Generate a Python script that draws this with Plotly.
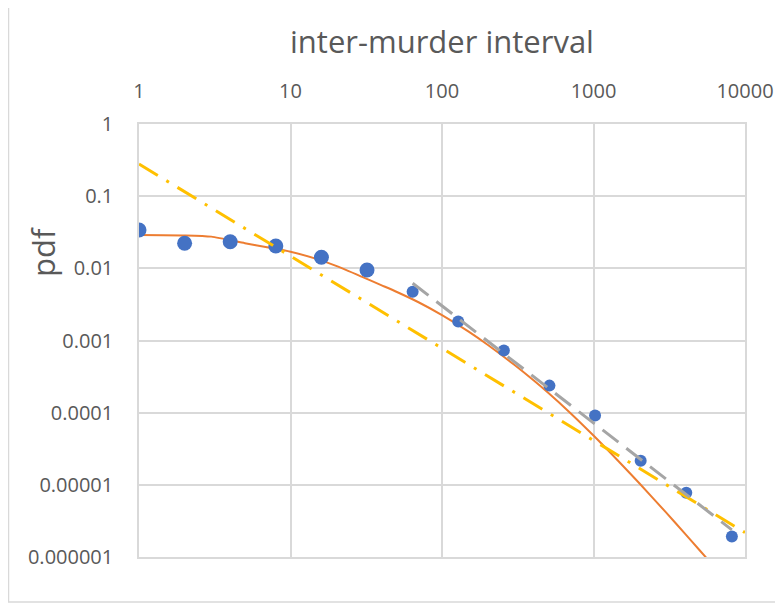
import plotly.graph_objects as go

# ---- data ----
interval = [1, 2, 4, 8, 16, 32, 64, 128, 256, 512, 1024, 2048, 4096, 8192]
pdf_obs = [0.0340, 0.0223, 0.0234, 0.0204, 0.01425, 0.0095, 0.00474, 0.00183,
           0.000725, 0.000237, 0.0000912, 0.0000215, 0.00000775, 0.00000192]

fit_x = [1, 2, 3, 5, 7, 10, 15, 20, 30, 40, 50, 70, 100, 150, 200, 300, 400, 500, 700,
         1000, 1500, 2000, 3000, 4000, 5000, 8000]
fit_y = [0.0290, 0.0286, 0.0275, 0.0223, 0.0196, 0.0170, 0.0134, 0.0108, 0.00755, 0.00582,
         0.00474, 0.00339, 0.00225, 0.00133, 0.000875, 0.000461, 0.000283, 0.000190, 0.000100,
         0.0000482, 0.0000201, 0.0000106, 0.00000418, 0.00000213, 0.00000125, 0.00000041]

power_x = [1, 10000]
power_y = [0.279, 0.00000218]

tail_x = [64, 8192]
tail_y = [0.00622, 0.00000238]

x_ticks = [1, 10, 100, 1000, 10000]
x_tick_text = ["1", "10", "100", "1000", "10000"]
y_ticks = [1, 0.1, 0.01, 0.001, 0.0001, 0.00001, 0.000001]
y_tick_text = ["1", "0.1", "0.01", "0.001", "0.0001", "0.00001", "0.000001"]

FONT = "Open Sans"
TXT = "#595959"
GRID = "#D9D9D9"

fig = go.Figure()
fig.add_trace(go.Scatter(x=fit_x, y=fit_y, mode="lines",
                         line=dict(color="#ED7D31", width=2, shape="spline", smoothing=0.6),
                         showlegend=False))
fig.add_trace(go.Scatter(x=interval, y=pdf_obs, mode="markers",
                         marker=dict(color="#4472C4", opacity=1,
                                     line=dict(width=0, color="#4472C4"),
                                     size=[15, 15, 15, 15, 15, 15, 12, 12, 12, 12, 12, 12, 12, 12]),
                         showlegend=False))
fig.add_trace(go.Scatter(x=power_x, y=power_y, mode="lines",
                         line=dict(color="#FFC000", width=3, dash="22px,10px,3px,10px"),
                         showlegend=False))
fig.add_trace(go.Scatter(x=tail_x, y=tail_y, mode="lines",
                         line=dict(color="#A5A5A5", width=3, dash="20px,10px"),
                         showlegend=False))

# page has an 8px body margin, so figure coords = page coords - 8
OFF = 8
L, R, T, B = 139 - OFF, 745 - OFF, 124 - OFF, 557 - OFF
W, H = 783 - OFF, 604 - OFF

def px_x(p):
    return (p - OFF - L) / (R - L)

def px_y(p):
    return (B - (p - OFF)) / (B - T)

bx0, bx1 = px_x(8.5), px_x(820)
by0, by1 = px_y(602), px_y(7)
border_path = f"M {bx1},{by1} L {bx0},{by1} L {bx0},{by0} L {bx1},{by0}"

fig.update_layout(
    width=W, height=H,
    margin=dict(l=L, r=W - R, t=T, b=H - B, pad=0, autoexpand=False),
    paper_bgcolor="white", plot_bgcolor="white",
    font=dict(family=FONT, color=TXT),
    xaxis=dict(type="log", range=[0, 4], side="top",
               tickvals=x_ticks, ticktext=x_tick_text,
               tickfont=dict(size=20, color=TXT, family=FONT),
               ticklabelstandoff=16,
               showgrid=True, gridcolor=GRID, gridwidth=1.5,
               showline=True, linecolor=GRID, linewidth=1.5, mirror=True,
               ticks="", zeroline=False,
               title=dict(text="inter-murder interval",
                          font=dict(size=31, color=TXT, family=FONT), standoff=14)),
    yaxis=dict(type="log", range=[-6, 0],
               tickvals=y_ticks, ticktext=y_tick_text,
               tickfont=dict(size=20, color=TXT, family=FONT),
               ticklabelstandoff=20,
               showgrid=True, gridcolor=GRID, gridwidth=1.5,
               showline=True, linecolor=GRID, linewidth=1.5, mirror=True,
               ticks="", zeroline=False),
    annotations=[dict(text="pdf", xref="paper", yref="paper",
                      x=px_x(43), y=px_y(252), xanchor="center", yanchor="middle",
                      textangle=-90, showarrow=False,
                      font=dict(size=31, color=TXT, family=FONT))],
    shapes=[dict(type="path", xref="paper", yref="paper", path=border_path,
                 line=dict(color=GRID, width=1.5), layer="below")],
)

fig.write_html("out.html")
